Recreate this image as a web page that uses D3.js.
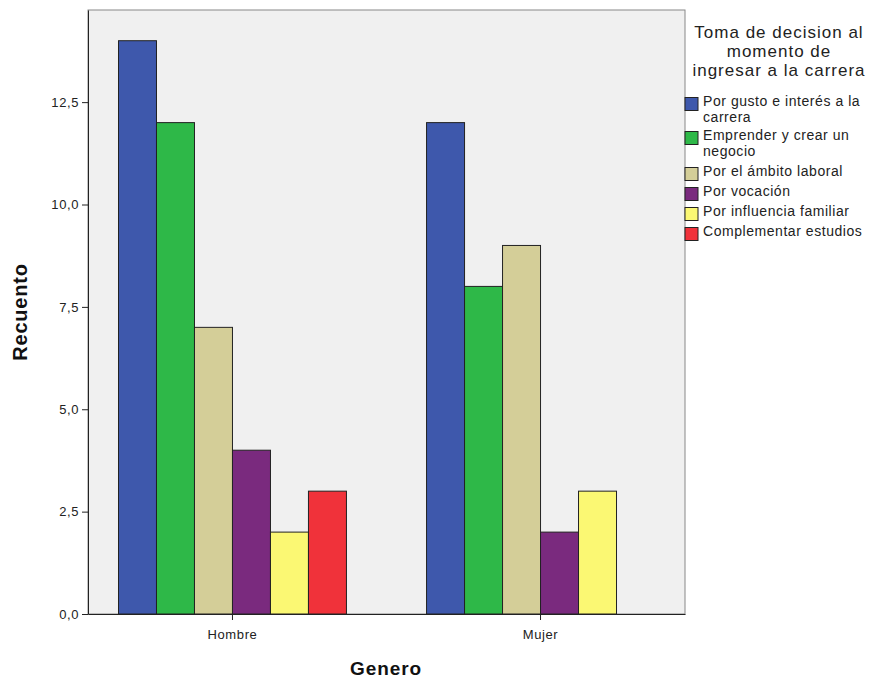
<!DOCTYPE html>
<html><head><meta charset="utf-8">
<script src="https://cdn.jsdelivr.net/npm/d3@7/dist/d3.min.js"></script>
<style>body{margin:0;background:#fff;font-family:Arial,"Liberation Sans",sans-serif;}</style>
</head><body><svg id="c" width="872" height="679"></svg>
<script>
const groups = ["Hombre", "Mujer"];
const series = ["Por gusto e interés a la carrera","Emprender y crear un negocio","Por el ámbito laboral","Por vocación","Por influencia familiar","Complementar estudios"];
const legendLines = [["Por gusto e interés a la","carrera"],["Emprender y crear un","negocio"],["Por el ámbito laboral"],["Por vocación"],["Por influencia familiar"],["Complementar estudios"]];
const hombre = [14, 12, 7, 4, 2, 3];
const mujer = [12, 8, 9, 2, 3, null];
const colors = ["#3E58AC","#2EB848","#D4CE98","#7A2A7E","#FBF873","#F0323A"];
const yTicks = [0, 2.5, 5, 7.5, 10, 12.5];
const legendTitle = ["Toma de decision al","momento de","ingresar a la carrera"];

const svg = d3.select("#c");
const L = 88, R = 685, T = 10, B = 614;
const x = d3.scaleBand().domain(groups).range([L, R]).paddingInner(0.26).paddingOuter(0.099);
const xi = d3.scaleBand().domain(series).range([0, x.bandwidth()]);
const y = d3.scaleLinear().domain([0, 14.75]).range([B, T]);

svg.append("rect").attr("x", L).attr("y", T).attr("width", R - L).attr("height", B - T)
  .attr("fill", "#F0F0F0").attr("stroke", "#888").attr("stroke-width", 1);

const data = [hombre, mujer];
groups.forEach((g, gi) => {
  data[gi].forEach((v, si) => {
    if (v == null) return;
    svg.append("rect")
      .attr("x", x(g) + xi(series[si]))
      .attr("y", y(v))
      .attr("width", xi.bandwidth())
      .attr("height", y(0) - y(v))
      .attr("fill", colors[si]).attr("stroke", "#222").attr("stroke-width", 1);
  });
});

const yAxis = svg.append("g").attr("transform", `translate(${L},0)`)
  .call(d3.axisLeft(y).tickValues(yTicks).tickSize(6).tickSizeOuter(0).tickFormat(d => d3.format(".1f")(d).replace(".", ",")));
yAxis.select(".domain").attr("stroke", "#222");
yAxis.selectAll("text").attr("font-size", 13).attr("letter-spacing", 0.6).attr("fill", "#222").attr("font-family", "Arial, Liberation Sans, sans-serif");
yAxis.selectAll(".tick line").attr("stroke", "#222");

const xAxis = svg.append("g").attr("transform", `translate(0,${B})`)
  .call(d3.axisBottom(x).tickSize(6).tickSizeOuter(0));
xAxis.select(".domain").attr("stroke", "#222");
xAxis.selectAll("text").attr("font-size", 13).attr("letter-spacing", 0.6).attr("fill", "#222").attr("dy", "1.2em").attr("font-family", "Arial, Liberation Sans, sans-serif");
xAxis.selectAll(".tick line").attr("stroke", "#222");

svg.append("text").attr("x", 386).attr("y", 675).attr("text-anchor", "middle")
  .attr("font-size", 19).attr("letter-spacing", 0.9).attr("font-weight", "bold").attr("fill", "#111").text("Genero");
svg.append("text").attr("transform", `translate(27,312) rotate(-90)`).attr("text-anchor", "middle")
  .attr("font-size", 20).attr("letter-spacing", 0.8).attr("font-weight", "bold").attr("fill", "#111").text("Recuento");

const lg = svg.append("g");
legendTitle.forEach((t, i) => {
  lg.append("text").attr("x", 779).attr("y", 38 + i * 19).attr("text-anchor", "middle")
    .attr("font-size", 17).attr("letter-spacing", 1).attr("fill", "#222").text(t);
});
const steps = [34, 36, 20, 20, 20, 20];
let ly = 98;
legendLines.forEach((lines, i) => {
  lg.append("rect").attr("x", 685).attr("y", ly - 0.5).attr("width", 13).attr("height", 13)
    .attr("fill", colors[i]).attr("stroke", "#222").attr("stroke-width", 1);
  lines.forEach((t, j) => {
    lg.append("text").attr("x", 703).attr("y", ly + 8 + j * 16).attr("font-size", 14).attr("letter-spacing", 0.55)
      .attr("fill", "#222").text(t);
  });
  ly += steps[i];
});
</script></body></html>
